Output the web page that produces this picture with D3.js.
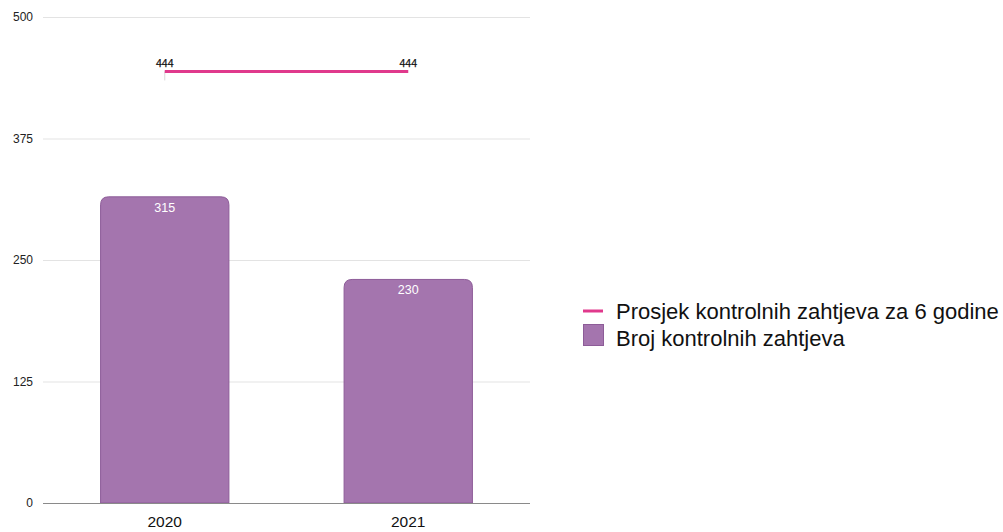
<!DOCTYPE html>
<html><head><meta charset="utf-8">
<script src="https://cdn.jsdelivr.net/npm/d3@7"></script>
<style>body{margin:0;background:#fff;}svg{font-family:"Liberation Sans",Arial,Helvetica,sans-serif;}</style>
</head><body>
<svg id="c" width="1003" height="532"></svg>
<script>
const categories = ["2020", "2021"];
const barValues = [315, 230];
const avgValues = [444, 444];
const yTicks = [0, 125, 250, 375, 500];
const seriesNames = ["Prosjek kontrolnih zahtjeva za 6 godine", "Broj kontrolnih zahtjeva"];

(function () {
const svg = d3.select("#c");
const pLeft = 43, pRight = 530, pTop = 17, pBottom = 503;
const barColor = "#a475ae", barStroke = "#8d5c98", lineColor = "#e0398c";

const y = d3.scaleLinear().domain([0, 500]).range([pBottom, pTop]);
const x = d3.scaleBand().domain(categories).range([pLeft, pRight]).padding(0);
const bw = x.bandwidth() * 0.527;

// gridlines
svg.append("g").selectAll("line").data(yTicks.filter(d => d > 0)).join("line")
  .attr("x1", pLeft).attr("x2", pRight)
  .attr("y1", d => y(d) + 0.5).attr("y2", d => y(d) + 0.5)
  .attr("stroke", "#e3e3e3").attr("stroke-width", 1);

// y labels
svg.append("g").selectAll("text").data(yTicks).join("text")
  .attr("x", 33).attr("y", d => y(d)).attr("dy", "0.35em")
  .attr("text-anchor", "end").attr("font-size", 12).attr("fill", "#222")
  .text(d => d);

// bars with rounded tops
const r = 8;
function barPath(d, i) {
  const cx = x(categories[i]) + x.bandwidth() / 2;
  const x0 = cx - bw / 2, x1 = cx + bw / 2, yt = y(d), yb = y(0);
  return `M${x0},${yb}V${yt + r}Q${x0},${yt} ${x0 + r},${yt}H${x1 - r}Q${x1},${yt} ${x1},${yt + r}V${yb}Z`;
}
svg.append("g").selectAll("path").data(barValues).join("path")
  .attr("d", barPath).attr("fill", barColor).attr("stroke", barStroke).attr("stroke-width", 1);

// bar labels
svg.append("g").selectAll("text").data(barValues).join("text")
  .attr("x", (d, i) => x(categories[i]) + x.bandwidth() / 2)
  .attr("y", d => y(d) + 15)
  .attr("text-anchor", "middle").attr("font-size", 12.5).attr("fill", "#fff")
  .text(d => d);

// baseline
svg.append("line").attr("x1", pLeft).attr("x2", pRight)
  .attr("y1", y(0) + 0.5).attr("y2", y(0) + 0.5)
  .attr("stroke", "#8a8a8a").attr("stroke-width", 1);

// x labels
svg.append("g").selectAll("text").data(categories).join("text")
  .attr("x", d => x(d) + x.bandwidth() / 2).attr("y", 527)
  .attr("text-anchor", "middle").attr("font-size", 15.5).attr("fill", "#111")
  .text(d => d);

// average line
const cxs = categories.map(c => x(c) + x.bandwidth() / 2);
svg.append("line").attr("x1", cxs[0]).attr("x2", cxs[0])
  .attr("y1", y(avgValues[0])).attr("y2", y(avgValues[0]) + 9)
  .attr("stroke", "#d8d8d8").attr("stroke-width", 1);
const line = d3.line().x((d, i) => cxs[i]).y(d => y(d));
svg.append("path").datum(avgValues).attr("d", line)
  .attr("fill", "none").attr("stroke", lineColor).attr("stroke-width", 3);
svg.append("g").selectAll("text").data(avgValues).join("text")
  .attr("x", (d, i) => cxs[i]).attr("y", d => y(d) - 4)
  .attr("text-anchor", "middle").attr("font-size", 10.5).attr("fill", "#111")
  .attr("stroke", "#111").attr("stroke-width", 0.25)
  .text(d => d);

// legend
const lg = svg.append("g");
lg.append("line").attr("x1", 583).attr("x2", 603).attr("y1", 311).attr("y2", 311)
  .attr("stroke", lineColor).attr("stroke-width", 3);
lg.append("text").attr("x", 616).attr("y", 311).attr("dy", "0.35em")
  .attr("font-size", 22).attr("fill", "#111").text(seriesNames[0]);
lg.append("rect").attr("x", 583.5).attr("y", 324.5).attr("width", 20).attr("height", 21)
  .attr("fill", barColor).attr("stroke", barStroke).attr("stroke-width", 1);
lg.append("text").attr("x", 616).attr("y", 338).attr("dy", "0.35em")
  .attr("font-size", 22).attr("fill", "#111").text(seriesNames[1]);
})();
</script>
</body></html>
